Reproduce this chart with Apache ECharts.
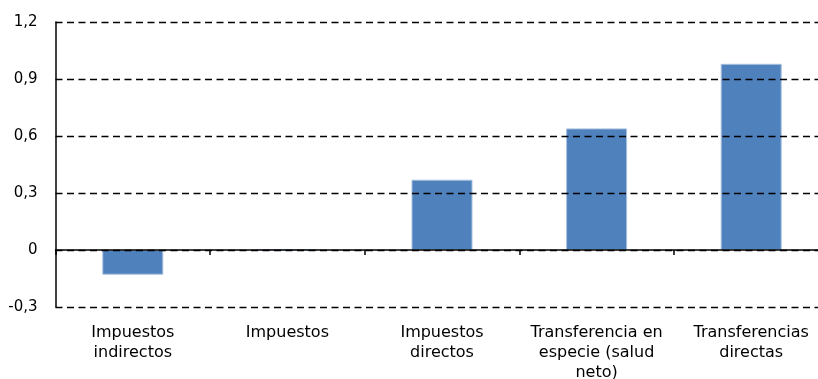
<!DOCTYPE html>
<html>
<head>
<meta charset="utf-8">
<script src="https://cdn.jsdelivr.net/npm/echarts@6/dist/echarts.min.js"></script>
<style>
  html, body { margin: 0; padding: 0; background: #fff; }
  #chart { width: 818px; height: 379px; }
</style>
</head>
<body>
<div id="chart"></div>
<script>
// Categories (with line breaks as shown under the axis)
const categories = [
  'Impuestos\nindirectos',
  'Impuestos',
  'Impuestos\ndirectos',
  'Transferencia en\nespecie (salud\nneto)',
  'Transferencias\ndirectas'
];
// Bar values
const values = [-0.13, 0.005, 0.37, 0.64, 0.98];
// Value axis range and step
const yMin = -0.3;
const yMax = 1.2;
const yStep = 0.3;

const chart = echarts.init(document.getElementById('chart'), null, { renderer: 'canvas' });

const fmt = v => {
  const r = Math.round(v * 10) / 10;
  return r === 0 ? '0' : r.toFixed(1).replace('.', ',');
};

chart.setOption({
  animation: false,
  backgroundColor: '#ffffff',
  // plot area runs a little past the right edge of the canvas;
  // labels may hang off the bottom, so no automatic fitting
  grid: {
    left: 55.5, width: 773, top: 22, height: 285,
    containLabel: false,
    outerBoundsMode: 'none'
  },
  xAxis: [
    {
      type: 'category',
      data: categories,
      position: 'bottom',
      z: 10,
      axisLine: { show: true, onZero: true, lineStyle: { color: '#000', width: 1.5 } },
      axisTick: { show: true, length: 5, inside: false, lineStyle: { color: '#000', width: 1.5 } },
      axisLabel: { show: false },
      splitLine: { show: false }
    },
    {
      type: 'category',
      data: categories,
      position: 'bottom',
      axisLine: { show: false, onZero: false },
      axisTick: { show: false },
      axisLabel: {
        show: true,
        margin: 16,
        interval: 0,
        color: '#000',
        fontFamily: 'DejaVu Sans',
        fontSize: 16,
        lineHeight: 20
      },
      splitLine: { show: false }
    }
  ],
  yAxis: {
    type: 'value',
    min: yMin,
    max: yMax,
    interval: yStep,
    z: 10,
    axisLine: { show: true, lineStyle: { color: '#000', width: 1.5 } },
    axisTick: { show: false },
    axisLabel: {
      margin: 18,
      color: '#000',
      fontFamily: 'DejaVu Sans',
      fontSize: 15,
      formatter: fmt
    },
    splitLine: {
      show: true,
      lineStyle: { color: '#000', width: 1.4, type: [7, 4.5] }
    }
  },
  series: [
    {
      type: 'bar',
      xAxisIndex: 0,
      data: values,
      barWidth: 61,
      itemStyle: {
        color: '#4f81bd',
        borderColor: '#a8c0de',
        borderWidth: 1
      }
    }
  ]
});
</script>
</body>
</html>
